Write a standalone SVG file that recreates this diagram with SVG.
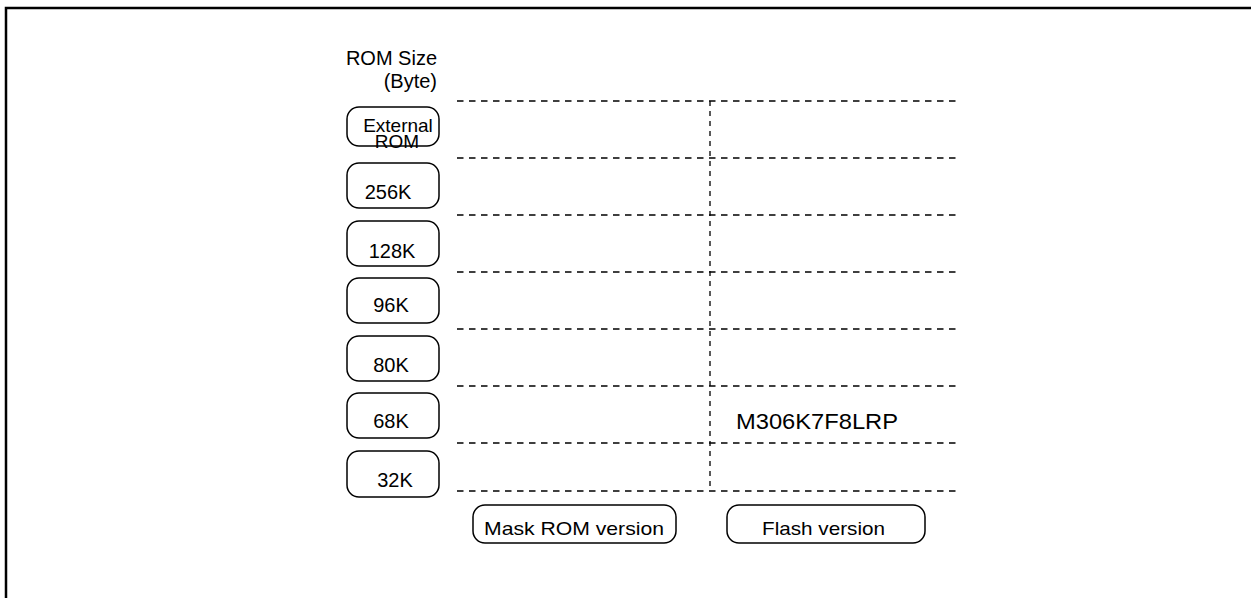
<svg xmlns="http://www.w3.org/2000/svg" width="1251" height="598" viewBox="0 0 1251 598">
<style>
text{font-family:"Liberation Sans",Arial,sans-serif;fill:#000}
.lbl{font-size:20px}
.box{fill:#fff;stroke:#000;stroke-width:1.5}
.dh{stroke:#000;stroke-width:1.3;stroke-dasharray:6.5 5.5;fill:none}
.dv{stroke:#000;stroke-width:1.3;stroke-dasharray:5 5;fill:none}
</style>
<rect width="1251" height="598" fill="#fff"/>
<rect x="6" y="8" width="1300" height="650" fill="none" stroke="#000" stroke-width="2.5"/>
<g id="header">
<text class="lbl" x="437" y="65" text-anchor="end">ROM Size</text>
<text class="lbl" x="437" y="88" text-anchor="end">(Byte)</text>
</g>
<g id="connectors">
<line class="dh" x1="457" y1="101" x2="957" y2="101"/>
<line class="dh" x1="457" y1="158" x2="957" y2="158"/>
<line class="dh" x1="457" y1="215" x2="957" y2="215"/>
<line class="dh" x1="457" y1="272" x2="957" y2="272"/>
<line class="dh" x1="457" y1="329" x2="957" y2="329"/>
<line class="dh" x1="457" y1="386" x2="957" y2="386"/>
<line class="dh" x1="457" y1="443" x2="957" y2="443"/>
<line class="dh" x1="457" y1="491" x2="957" y2="491"/>
<line class="dv" x1="710" y1="101" x2="710" y2="491"/>
</g>
<g id="ext">
<rect class="box" x="347" y="107" width="92" height="39" rx="12"/>
<text x="398" y="132" font-size="19" text-anchor="middle">External</text>
<text x="397" y="148" font-size="19" text-anchor="middle">ROM</text>
</g>
<g id="s256"><rect class="box" x="347" y="163" width="92" height="45" rx="12"/><text class="lbl" x="388" y="199" text-anchor="middle">256K</text></g>
<g id="s128"><rect class="box" x="347" y="221" width="92" height="45" rx="12"/><text class="lbl" x="392" y="258" text-anchor="middle">128K</text></g>
<g id="s96"><rect class="box" x="347" y="278" width="92" height="45" rx="12"/><text class="lbl" x="391" y="312" text-anchor="middle">96K</text></g>
<g id="s80"><rect class="box" x="347" y="336" width="92" height="45" rx="12"/><text class="lbl" x="391" y="372" text-anchor="middle">80K</text></g>
<g id="s68"><rect class="box" x="347" y="393" width="92" height="45" rx="12"/><text class="lbl" x="391" y="428" text-anchor="middle">68K</text></g>
<g id="s32"><rect class="box" x="347" y="451" width="92" height="46" rx="12"/><text class="lbl" x="395" y="487" text-anchor="middle">32K</text></g>
<g id="part"><text x="736" y="429" font-size="22" textLength="162" lengthAdjust="spacingAndGlyphs">M306K7F8LRP</text></g>
<g id="mask"><rect class="box" x="473" y="505" width="203" height="38" rx="12"/><text x="484" y="535" font-size="19" textLength="180" lengthAdjust="spacingAndGlyphs">Mask ROM version</text></g>
<g id="flash"><rect class="box" x="727" y="505" width="198" height="38" rx="12"/><text x="762" y="535" font-size="19" textLength="123" lengthAdjust="spacingAndGlyphs">Flash version</text></g>
</svg>
